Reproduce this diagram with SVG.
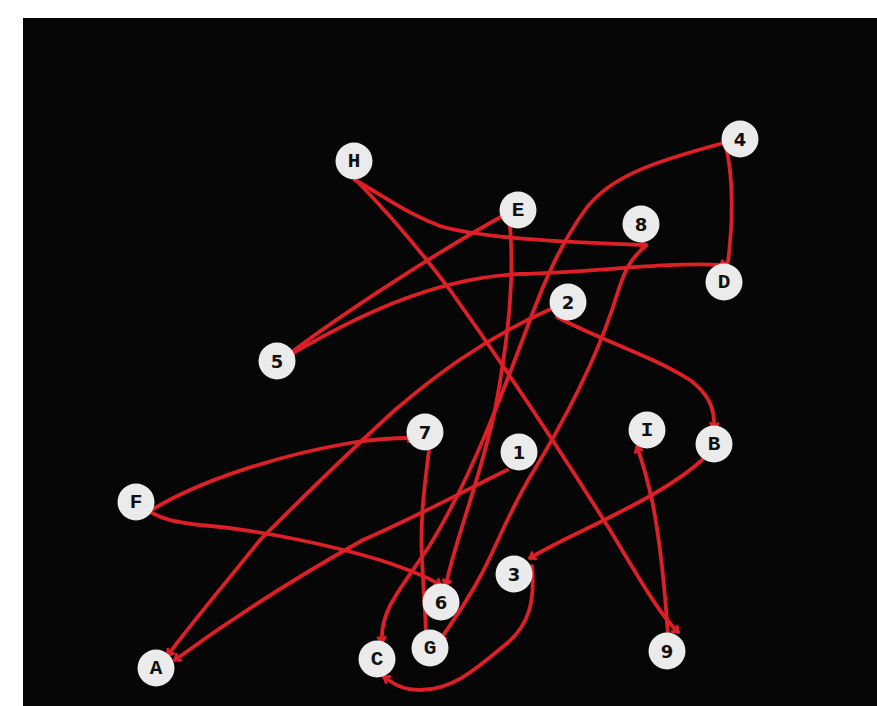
<svg xmlns="http://www.w3.org/2000/svg" width="877" height="706" viewBox="0 0 877 706">
<style>
.e{fill:none;stroke:#dd1f27;stroke-width:3.8;stroke-linecap:round;stroke-linejoin:round}
.n circle{fill:#ebebeb}
.n text{fill:#111;text-anchor:middle;dominant-baseline:central;font-weight:bold}
.l{font-family:"Liberation Mono","Courier New",monospace;font-size:21px}
.d{font-family:"DejaVu Sans","Liberation Sans",sans-serif;font-size:18px}
</style>
<defs>
<marker id="ah" viewBox="-8 -6 10 12" markerWidth="10" markerHeight="12" refX="0" refY="0" orient="auto" markerUnits="userSpaceOnUse">
<path d="M -4.5 -3.5 L 0 0 L -4.5 3.5" fill="none" stroke="#dd1f27" stroke-width="3" stroke-linecap="round" stroke-linejoin="round"/>
</marker>
</defs>
<rect x="0" y="0" width="877" height="706" fill="#ffffff"/>
<rect x="23" y="18" width="854" height="688" fill="#060606"/>
<g id="connectors">
<path class="e" marker-end="url(#ah)" d="M 355 180 C 390 200, 410 215, 440 226 C 480 238, 560 242, 646 245"/>
<path class="e" marker-end="url(#ah)" d="M 357 181 C 390 215, 420 250, 450 290 C 500 360, 560 450, 610 530 C 640 580, 660 615, 678 632"/>
<path class="e" marker-end="url(#ah)" d="M 668 636 C 665 590, 660 540, 652 500 C 645 470, 640 455, 637 447"/>
<path class="e" marker-end="url(#ah)" d="M 508 213 C 440 250, 340 315, 288 355"/>
<path class="e" marker-end="url(#ah)" d="M 509 215 C 515 270, 510 330, 495 410 C 480 480, 455 540, 446 585"/>
<path class="e" marker-end="url(#ah)" d="M 727 142 C 660 160, 610 175, 585 210 C 560 245, 545 280, 530 320 C 500 400, 470 480, 430 545 C 400 590, 380 610, 382 642"/>
<path class="e" marker-end="url(#ah)" d="M 725 143 C 735 180, 732 230, 728 262 L 720 266"/>
<path class="e" marker-end="url(#ah)" d="M 722 265 C 660 262, 600 272, 520 274 C 430 278, 350 320, 288 356"/>
<path class="e" marker-end="url(#ah)" d="M 646 246 C 625 262, 622 280, 612 310 C 595 360, 565 420, 530 477 C 505 520, 495 550, 480 577 C 465 605, 450 625, 440 640"/>
<path class="e" marker-end="url(#ah)" d="M 553 308 C 480 340, 430 380, 395 410 C 340 460, 300 500, 260 540 C 220 590, 190 625, 168 655"/>
<path class="e" marker-end="url(#ah)" d="M 557 317 C 600 340, 650 355, 690 380 C 710 395, 715 410, 714 428"/>
<path class="e" marker-end="url(#ah)" d="M 429 450 C 424 490, 420 520, 422 560 C 424 600, 426 620, 426 638"/>
<path class="e" marker-end="url(#ah)" d="M 150 511 C 200 480, 280 455, 350 443 C 380 438, 400 438, 413 438"/>
<path class="e" marker-end="url(#ah)" d="M 150 512 C 165 520, 175 522, 200 525 C 260 530, 330 545, 380 560 C 410 570, 430 578, 440 585"/>
<path class="e" marker-end="url(#ah)" d="M 507 470 C 470 488, 420 515, 363 540 C 300 575, 230 620, 175 660"/>
<path class="e" marker-end="url(#ah)" d="M 702 460 C 680 480, 650 497, 620 512 C 590 528, 560 540, 530 558"/>
<path class="e" marker-end="url(#ah)" d="M 532 566 C 535 600, 530 625, 505 645 C 480 665, 455 690, 420 690 C 400 690, 392 682, 384 677"/>
</g>
<g id="node-H" class="n"><circle cx="354" cy="161" r="18.5"/><text class="l" x="354" y="161">H</text></g>
<g id="node-E" class="n"><circle cx="518" cy="210" r="18.5"/><text class="l" x="518" y="210">E</text></g>
<g id="node-4" class="n"><circle cx="740" cy="139" r="18.5"/><text class="d" x="740" y="139">4</text></g>
<g id="node-8" class="n"><circle cx="641" cy="224" r="18.5"/><text class="d" x="641" y="224">8</text></g>
<g id="node-D" class="n"><circle cx="724" cy="282" r="18.5"/><text class="l" x="724" y="282">D</text></g>
<g id="node-2" class="n"><circle cx="568" cy="302" r="18.5"/><text class="d" x="568" y="302">2</text></g>
<g id="node-5" class="n"><circle cx="277" cy="361" r="18.5"/><text class="d" x="277" y="361">5</text></g>
<g id="node-7" class="n"><circle cx="425" cy="432" r="18.5"/><text class="d" x="425" y="432">7</text></g>
<g id="node-1" class="n"><circle cx="519" cy="452" r="18.5"/><text class="d" x="519" y="452">1</text></g>
<g id="node-I" class="n"><circle cx="647" cy="430" r="18.5"/><text class="l" x="647" y="430">I</text></g>
<g id="node-B" class="n"><circle cx="714" cy="444" r="18.5"/><text class="l" x="714" y="444">B</text></g>
<g id="node-F" class="n"><circle cx="136" cy="502" r="18.5"/><text class="l" x="136" y="502">F</text></g>
<g id="node-3" class="n"><circle cx="514" cy="574" r="18.5"/><text class="d" x="514" y="574">3</text></g>
<g id="node-6" class="n"><circle cx="441" cy="602" r="18.5"/><text class="d" x="441" y="602">6</text></g>
<g id="node-G" class="n"><circle cx="430" cy="648" r="18.5"/><text class="l" x="430" y="648">G</text></g>
<g id="node-C" class="n"><circle cx="377" cy="659" r="18.5"/><text class="l" x="377" y="659">C</text></g>
<g id="node-A" class="n"><circle cx="156" cy="668" r="18.5"/><text class="l" x="156" y="668">A</text></g>
<g id="node-9" class="n"><circle cx="667" cy="651" r="18.5"/><text class="d" x="667" y="651">9</text></g>
</svg>
